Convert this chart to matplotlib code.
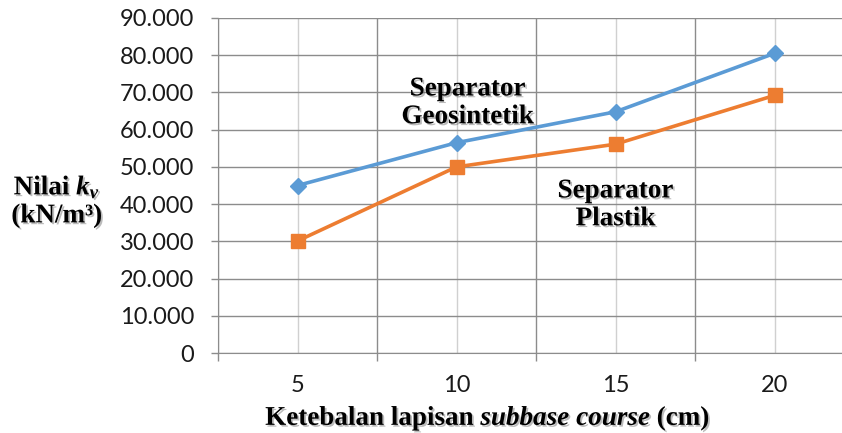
import matplotlib.pyplot as plt
import matplotlib.patheffects as pe
from matplotlib.ticker import FuncFormatter, FixedLocator

plt.rcParams['mathtext.fontset'] = 'custom'
plt.rcParams['mathtext.rm'] = 'Liberation Serif:bold'
plt.rcParams['mathtext.it'] = 'Liberation Serif:italic:bold'
plt.rcParams['mathtext.bf'] = 'Liberation Serif:bold'

# tebal lapisan subbase (cm) dan nilai kv
tebal = ['5', '10', '15', '20']
kv_geosintetik = [45000, 56500, 64800, 80500]
kv_plastik = [30100, 50000, 56100, 69200]

x = list(range(1, len(tebal) + 1))

fig = plt.figure(figsize=(8.42, 4.33), dpi=100)
ax = fig.add_axes([218 / 842, 1 - 353 / 433, 624 / 842, 335 / 433])

ax.plot(x, kv_geosintetik, color='#5B9BD5', lw=2.6, marker='D', ms=8.5, zorder=3)
ax.plot(x, kv_plastik, color='#ED7D31', lw=2.6, marker='s', ms=10.5, zorder=3)

ax.set_xlim(0.5, 0.5 + 624 / 159)
ax.set_ylim(0, 90000)
ax.set_yticks(range(0, 90001, 10000))
ax.yaxis.set_major_formatter(FuncFormatter(lambda v, p: f'{int(v):,}'.replace(',', '.')))

ax.set_xticks(x)
ax.set_xticklabels(tebal)
ax.xaxis.set_minor_locator(FixedLocator([0.5, 1.5, 2.5, 3.5, 4.5]))

for t in ax.get_yticklabels() + ax.get_xticklabels():
    t.set_fontfamily('Lato')
    t.set_fontsize(17)
    t.set_color('#1a1a1a')

ax.tick_params(axis='y', length=5, width=1, color='#8c8c8c', pad=12)
ax.tick_params(axis='x', which='major', length=0, pad=16)
ax.tick_params(axis='x', which='minor', length=6, width=1, color='#8c8c8c')

ax.grid(axis='y', color='#8c8c8c', lw=1)
ax.grid(axis='x', which='major', color='#d0d0d0', lw=1)
ax.grid(axis='x', which='minor', color='#8c8c8c', lw=1)
ax.set_axisbelow(True)

for s in ['top', 'right']:
    ax.spines[s].set_visible(False)
ax.spines['left'].set_color('#8c8c8c')
ax.spines['bottom'].set_color('#8c8c8c')

shadow = [pe.withSimplePatchShadow(offset=(1.3, -1.3), shadow_rgbFace='#555555', alpha=0.4)]
serif = dict(family='Liberation Serif', weight='bold', size=19.5, color='black',
             ha='center', va='center', linespacing=1.15, path_effects=shadow)

ax.text(2.07, 67200, 'Separator\nGeosintetik', **serif)
ax.text(3.0, 39800, 'Separator\nPlastik', **serif)

fig.text(57 / 842, 1 - 201 / 433, 'Nilai $k_v$\n(kN/m³)', **serif)
fig.text(488 / 842, 1 - 418 / 433, 'Ketebalan lapisan $subbase\\ course$ (cm)', **serif)

fig.savefig('out.png', dpi=100)
